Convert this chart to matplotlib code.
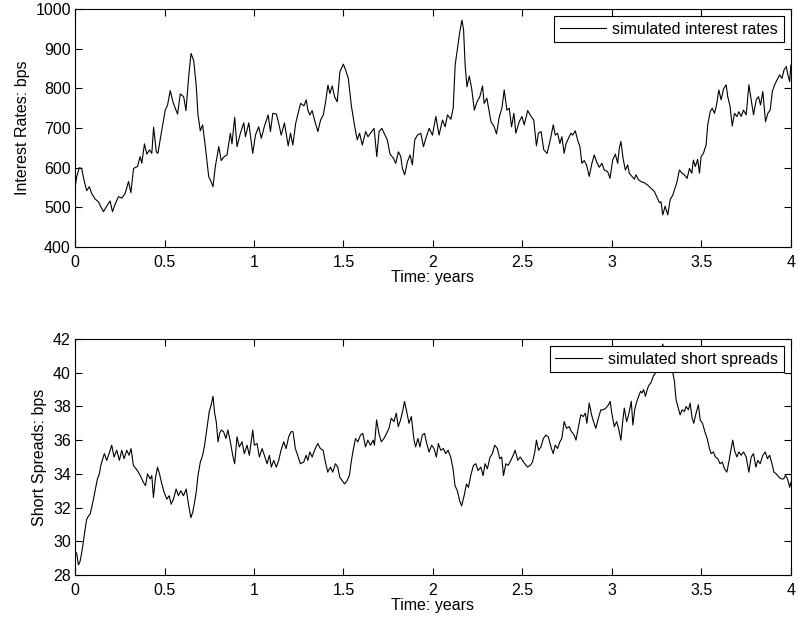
import matplotlib
matplotlib.use("Agg")
import matplotlib.pyplot as plt

# values
t_rate = [0, 0.009, 0.024, 0.037, 0.050, 0.065, 0.080, 0.093, 0.112, 0.131,
          0.149, 0.159, 0.177, 0.196, 0.209, 0.224, 0.243, 0.261, 0.280, 0.299,
          0.312, 0.327, 0.349, 0.364, 0.373, 0.388, 0.401, 0.416, 0.429, 0.439,
          0.454, 0.463, 0.480, 0.504, 0.517, 0.532, 0.547, 0.560, 0.573, 0.588,
          0.607, 0.620, 0.635, 0.648, 0.663, 0.677, 0.687, 0.700, 0.713, 0.728,
          0.747, 0.760, 0.771, 0.784, 0.803, 0.817, 0.834, 0.849, 0.868, 0.877,
          0.892, 0.905, 0.924, 0.943, 0.952, 0.971, 0.993, 1.008, 1.026, 1.041,
          1.058, 1.079, 1.092, 1.105, 1.125, 1.138, 1.152, 1.170, 1.191, 1.204,
          1.217, 1.233,
          1.260, 1.279, 1.292, 1.301, 1.312, 1.325, 1.338, 1.357, 1.372, 1.387,
          1.400, 1.413, 1.424, 1.437, 1.450, 1.465, 1.480, 1.499, 1.512, 1.527,
          1.544, 1.562, 1.577, 1.590, 1.605, 1.624, 1.637, 1.652, 1.671, 1.686,
          1.699, 1.714, 1.727, 1.745, 1.760, 1.779, 1.792, 1.807, 1.820, 1.829,
          1.842, 1.857, 1.872, 1.885, 1.898, 1.913, 1.932, 1.947, 1.960, 1.979,
          1.997, 2.016, 2.034, 2.053, 2.068, 2.081, 2.100, 2.113, 2.124, 2.137,
          2.150, 2.162, 2.171, 2.180, 2.190, 2.203, 2.216, 2.231, 2.246, 2.262,
          2.277, 2.286, 2.301, 2.314, 2.324, 2.342, 2.355, 2.370, 2.385, 2.398,
          2.413, 2.426, 2.439, 2.452, 2.463, 2.482, 2.497, 2.510, 2.529, 2.548,
          2.563, 2.578, 2.589, 2.604, 2.619, 2.638,
          2.659, 2.672, 2.683, 2.696, 2.709, 2.720, 2.733, 2.743, 2.757, 2.771,
          2.780, 2.795, 2.808, 2.821, 2.832, 2.845, 2.858, 2.873, 2.888, 2.901,
          2.914, 2.929, 2.944, 2.957, 2.976, 2.989, 3.004, 3.019, 3.032, 3.041,
          3.050, 3.063, 3.075, 3.088, 3.097, 3.112, 3.125, 3.134, 3.149, 3.162,
          3.181, 3.200, 3.218, 3.237, 3.250, 3.265, 3.274, 3.284, 3.297, 3.312,
          3.325, 3.340, 3.349, 3.362, 3.377, 3.392, 3.405, 3.420, 3.433, 3.446,
          3.455, 3.466, 3.479, 3.489, 3.498, 3.511, 3.526, 3.535, 3.549, 3.560,
          3.573, 3.586, 3.597, 3.610, 3.623, 3.638, 3.647, 3.660, 3.672, 3.685,
          3.698, 3.709, 3.722, 3.735, 3.750, 3.765, 3.778, 3.791, 3.806, 3.819,
          3.830, 3.843, 3.858, 3.871, 3.884, 3.896, 3.909, 3.922, 3.937, 3.950,
          3.961, 3.974, 3.983, 3.993, 4.000]
rate = [548, 577, 600, 598, 569, 542, 552, 535, 521, 514,
        497, 489, 503, 516, 489, 508, 527, 523, 535, 565,
        537, 598, 603, 628, 611, 660, 634, 645, 636, 702,
        640, 636, 682, 745, 758, 794, 766, 750, 735, 786,
        779, 744, 829, 888, 870, 808, 733, 693, 708, 653,
        577, 565, 552, 603, 653, 618, 628, 632, 687, 660,
        727, 653, 687, 713, 678, 713, 636, 682, 703, 674,
        704, 733, 691, 737, 735, 712, 682, 713, 655, 687,
        657, 712,
        762, 756, 771, 745, 733, 744, 720, 691, 720, 733,
        766, 808, 787, 806, 779, 766, 842, 861, 846, 825,
        756, 705, 670, 687, 657, 691, 678, 688, 699, 628,
        691, 699, 687, 670, 634, 624, 611, 640, 628, 598,
        582, 615, 632, 607, 670, 682, 687, 653, 674, 699,
        682, 729, 682, 720, 703, 733, 722, 750, 859, 901,
        943, 972, 947, 855, 804, 831, 800, 745, 766, 779,
        806, 762, 775, 741, 716, 703, 685, 727, 750, 796,
        745, 750, 703, 737, 687, 716, 729, 708, 744, 729,
        720, 655, 687, 691, 645, 636,
        678, 708, 682, 687, 661, 678, 636, 660, 674, 687,
        682, 693, 670, 653, 611, 618, 607, 578, 611, 632,
        615, 601, 611, 594, 590, 573, 619, 634, 611, 649,
        666, 621, 594, 607, 586, 578, 571, 582, 569, 565,
        562, 556, 548, 540, 527, 512, 514, 481, 503, 481,
        519, 531, 544, 562, 594, 586, 582, 573, 598, 586,
        619, 603, 621, 586, 628, 636, 657, 708, 741, 750,
        737, 762, 796, 771, 798, 809, 779, 754, 705, 737,
        729, 741, 729, 745, 733, 809, 771, 733, 771, 779,
        758, 792, 716, 737, 745, 792, 809, 821, 834, 825,
        846, 855, 834, 817, 859]

t_spread = [0.000, 0.009, 0.019, 0.028, 0.037, 0.047, 0.056, 0.065, 0.075, 0.084,
            0.093, 0.103, 0.116, 0.125, 0.136, 0.144, 0.155, 0.164, 0.177, 0.190,
            0.205, 0.218, 0.233, 0.248, 0.261, 0.274, 0.289, 0.302, 0.313, 0.326,
            0.341, 0.354, 0.369, 0.382, 0.394, 0.405, 0.420, 0.429, 0.438, 0.450,
            0.461, 0.472, 0.485, 0.498, 0.513, 0.526, 0.537, 0.550, 0.565, 0.578,
            0.591, 0.606, 0.621, 0.634, 0.647, 0.657, 0.666, 0.677, 0.687, 0.700,
            0.713, 0.724, 0.737, 0.750, 0.761, 0.771, 0.780, 0.789, 0.799, 0.808,
            0.817, 0.830, 0.843, 0.854, 0.868, 0.881, 0.892, 0.905, 0.918, 0.933,
            0.946, 0.961, 0.974, 0.993, 1.002, 1.017, 1.030, 1.045, 1.058, 1.073,
            1.086, 1.097, 1.110, 1.125, 1.138, 1.151, 1.166, 1.179, 1.194, 1.207,
            1.218, 1.231, 1.244,
            1.259, 1.278, 1.291, 1.301, 1.312, 1.325, 1.338, 1.356, 1.371, 1.386,
            1.399, 1.412, 1.427, 1.440, 1.455, 1.468, 1.479, 1.493, 1.506, 1.520,
            1.533, 1.543, 1.554, 1.567, 1.580, 1.595, 1.608, 1.623, 1.636, 1.651,
            1.666, 1.673, 1.685, 1.698, 1.711, 1.726, 1.741, 1.754, 1.767, 1.782,
            1.795, 1.806, 1.819, 1.832, 1.841, 1.853, 1.866, 1.879, 1.894, 1.903,
            1.916, 1.927, 1.940, 1.953, 1.965, 1.978, 1.993, 2.006, 2.019, 2.030,
            2.043, 2.058, 2.071, 2.084, 2.099, 2.112, 2.123, 2.136, 2.149, 2.160,
            2.174, 2.187, 2.198, 2.211, 2.226, 2.239, 2.252, 2.267, 2.280, 2.291,
            2.304, 2.319, 2.332, 2.345, 2.360, 2.373, 2.384, 2.394, 2.407, 2.420,
            2.435, 2.448, 2.459, 2.474, 2.487, 2.500, 2.513, 2.528, 2.543, 2.556,
            2.569, 2.578, 2.590, 2.603, 2.617, 2.631, 2.644,
            2.662, 2.672, 2.683, 2.696, 2.709, 2.720, 2.733, 2.746, 2.761, 2.774,
            2.789, 2.799, 2.813, 2.826, 2.840, 2.851, 2.860, 2.873, 2.886, 2.897,
            2.910, 2.924, 2.938, 2.951, 2.966, 2.981, 2.990, 2.999, 3.013, 3.026,
            3.037, 3.050, 3.060, 3.069, 3.082, 3.093, 3.108, 3.117, 3.127, 3.136,
            3.149, 3.160, 3.168, 3.177, 3.187, 3.200, 3.209, 3.218, 3.231, 3.244,
            3.252, 3.265, 3.274, 3.284, 3.293, 3.302, 3.312, 3.325, 3.336, 3.349,
            3.358, 3.368, 3.381, 3.392, 3.405, 3.414, 3.427, 3.437, 3.448, 3.457,
            3.470, 3.483, 3.493, 3.506, 3.519, 3.532, 3.545, 3.554, 3.567, 3.578,
            3.591, 3.604, 3.616, 3.629, 3.642, 3.653, 3.666, 3.675, 3.685, 3.698,
            3.709, 3.722, 3.735, 3.750, 3.765, 3.778, 3.791, 3.804, 3.815, 3.828,
            3.843, 3.856, 3.869, 3.881, 3.894, 3.905, 3.918, 3.933, 3.946, 3.959,
            3.970, 3.981, 3.993, 4.000]
spread = [29.4, 29.3, 28.6, 28.8, 29.3, 30.0, 30.7, 31.3, 31.5, 31.6,
          32.0, 32.5, 33.2, 33.7, 34.0, 34.5, 34.9, 35.2, 34.8, 35.2,
          35.7, 35.0, 35.4, 34.8, 35.4, 34.9, 35.4, 35.1, 35.5, 34.5,
          34.3, 34.1, 33.8, 33.5, 33.3, 34.0, 33.7, 33.9, 32.6, 33.8,
          34.4, 34.0, 33.4, 32.9, 32.5, 32.7, 32.2, 32.5, 33.1, 32.7,
          33.0, 32.7, 33.1, 32.2, 31.4, 31.7, 32.2, 32.9, 33.9, 34.7,
          35.1, 35.7, 36.7, 37.7, 38.1, 38.6, 37.6, 37.1, 35.9, 36.4,
          36.6, 36.5, 36.1, 36.6, 35.9, 35.1, 34.6, 36.2, 35.6, 35.9,
          35.2, 35.7, 35.1, 36.6, 35.7, 35.8, 35.0, 35.5, 35.1, 34.6,
          35.1, 34.4, 34.8, 34.4, 34.8, 35.4, 35.9, 35.5, 36.2, 36.5,
          36.5, 35.5, 35.1,
          34.6, 34.7, 35.1, 34.8, 35.3, 35.0, 35.4, 35.8, 35.5, 35.4,
          34.7, 34.1, 34.4, 34.1, 34.6, 34.4, 33.8, 33.6, 33.4, 33.6,
          33.9, 34.7, 35.4, 36.1, 35.9, 36.3, 36.4, 35.6, 36.0, 35.7,
          36.0, 35.7, 37.2, 36.4, 35.9, 36.1, 36.4, 36.7, 37.3, 37.1,
          37.6, 36.8, 37.2, 37.8, 38.3, 37.7, 37.0, 37.4, 36.0, 35.6,
          36.1, 35.6, 36.3, 36.4, 35.8, 35.3, 35.7, 35.5, 35.0, 35.8,
          35.4, 35.5, 35.2, 35.4, 35.0, 34.3, 33.3, 33.0, 32.4, 32.1,
          32.7, 33.4, 33.2, 33.9, 34.5, 34.6, 34.2, 34.4, 33.9, 34.6,
          34.3, 35.0, 35.2, 35.7, 35.5, 34.9, 35.0, 33.9, 34.6, 34.5,
          34.8, 35.1, 35.4, 34.8, 35.0, 34.8, 34.6, 34.4, 34.5, 34.7,
          35.3, 36.0, 35.4, 35.6, 36.1, 36.3, 36.2,
          35.5, 35.2, 35.7, 35.5, 35.9, 36.1, 37.1, 36.7, 36.8, 36.5,
          36.3, 36.0, 36.8, 37.5, 37.4, 37.6, 37.0, 38.2, 37.5, 37.1,
          36.7, 37.3, 37.8, 37.8, 37.9, 38.1, 38.3, 37.6, 36.8, 37.1,
          36.7, 36.0, 37.1, 37.9, 37.1, 37.5, 38.3, 36.9, 37.8, 38.2,
          38.6, 38.9, 38.8, 39.0, 38.6, 39.1, 39.3, 39.4, 39.8, 40.0,
          40.4, 40.9, 41.2, 41.7, 41.1, 40.6, 40.9, 41.2, 40.2, 39.5,
          38.4, 38.0, 37.5, 37.8, 37.7, 38.0, 37.8, 38.2, 37.3, 37.0,
          37.6, 38.1, 37.2, 37.0, 36.5, 36.1, 35.5, 35.2, 35.3, 35.0,
          34.9, 34.6, 34.7, 34.3, 34.1, 34.7, 35.5, 36.0, 35.4, 35.0,
          35.3, 35.1, 35.3, 35.0, 34.1, 35.0, 35.2, 34.4, 34.8, 34.6,
          35.1, 35.3, 34.9, 35.1, 34.6, 34.1, 34.0, 33.8, 33.7, 33.7,
          33.9, 33.7, 33.2, 33.5]

x_ticks = [0, 0.5, 1, 1.5, 2, 2.5, 3, 3.5, 4]
x_labels = ["0", "0.5", "1", "1.5", "2", "2.5", "3", "3.5", "4"]
rate_ticks = [400, 500, 600, 700, 800, 900, 1000]
spread_ticks = [28, 30, 32, 34, 36, 38, 40, 42]

plt.rcParams['font.family'] = ['Liberation Sans', 'DejaVu Sans']
plt.rcParams['font.size'] = 11.5

fig = plt.figure(figsize=(7.99, 6.25), dpi=100)
ax1 = fig.add_axes([0.0939, 0.6048, 0.896, 0.3808])
ax2 = fig.add_axes([0.0939, 0.080, 0.896, 0.3776])

ax1.plot(t_rate, rate, color='k', lw=0.8, label='simulated interest rates')
ax2.plot(t_spread, spread, color='k', lw=0.8, label='simulated short spreads')

for ax, yt, ylab in [(ax1, rate_ticks, 'Interest Rates: bps'),
                     (ax2, spread_ticks, 'Short Spreads: bps')]:
    ax.set_xlim(0, 4)
    ax.set_ylim(yt[0], yt[-1])
    ax.set_xticks(x_ticks)
    ax.set_xticklabels(x_labels)
    ax.set_yticks(yt)
    ax.set_xlabel('Time: years', labelpad=0)
    ax.set_ylabel(ylab, labelpad=4)
    ax.tick_params(direction='in', top=True, right=True, length=5, width=0.8)
    ax.tick_params(axis='x', pad=6)
    ax.tick_params(axis='y', pad=3)
    for s in ax.spines.values():
        s.set_linewidth(0.8)
    leg = ax.legend(loc='upper right', fancybox=False, framealpha=1, edgecolor='k',
                    handlelength=2.9, handletextpad=0.4, borderpad=0.35,
                    borderaxespad=0.45, fontsize=11.5)
    leg.get_frame().set_linewidth(0.8)

fig.savefig('out.png', dpi=100)
